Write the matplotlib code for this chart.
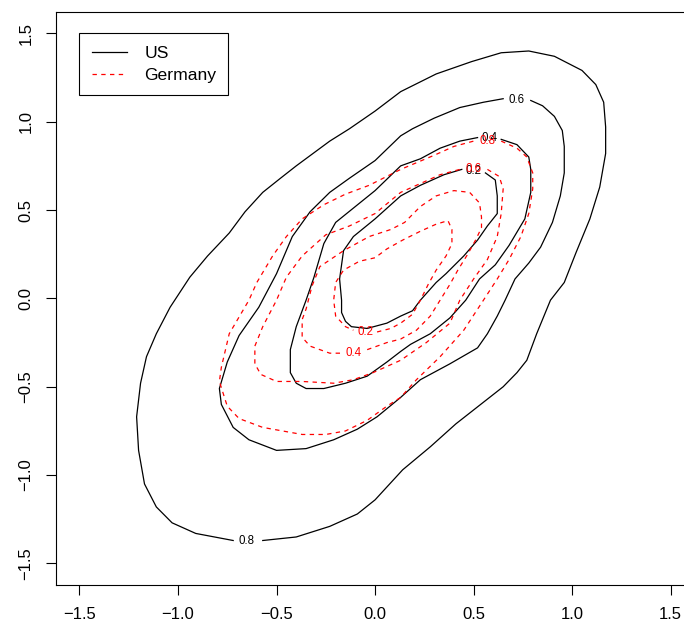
import matplotlib
matplotlib.use('Agg')
import matplotlib.pyplot as plt

plt.rcParams['font.family'] = ['Liberation Sans', 'DejaVu Sans']

# contour paths, each one is open where its label sits
us_08_x = [-0.57, -0.40, -0.23, -0.09, 0.00, 0.14, 0.28, 0.41, 0.57, 0.65, 0.72, 0.77, 0.82, 0.89, 0.96, 1.02, 1.09,
           1.14, 1.17, 1.17, 1.16, 1.12, 1.05, 0.91, 0.78, 0.64, 0.49, 0.31, 0.13, 0.00, -0.13, -0.23, -0.40, -0.48,
           -0.57, -0.66, -0.74, -0.85, -0.94, -1.04, -1.11, -1.16, -1.19, -1.21, -1.20, -1.17, -1.11, -1.03, -0.91, -0.72]
us_08_y = [-1.37, -1.35, -1.29, -1.22, -1.14, -0.97, -0.84, -0.71, -0.57, -0.50, -0.42, -0.35, -0.20, -0.01, 0.09, 0.26,
           0.45, 0.63, 0.82, 0.97, 1.11, 1.21, 1.29, 1.37, 1.40, 1.39, 1.34, 1.27, 1.17, 1.06, 0.96, 0.89, 0.75, 0.68,
           0.60, 0.49, 0.37, 0.24, 0.12, -0.05, -0.20, -0.33, -0.48, -0.67, -0.86, -1.05, -1.18, -1.27, -1.33, -1.37]

us_06_x = [0.79, 0.85, 0.91, 0.95, 0.96, 0.96, 0.94, 0.90, 0.84, 0.78, 0.71, 0.66, 0.62, 0.57, 0.52, 0.38, 0.23, 0.13,
           0.01, -0.09, -0.21, -0.35, -0.50, -0.64, -0.72, -0.78, -0.79, -0.75, -0.69, -0.59, -0.50, -0.42, -0.33,
           -0.23, -0.13, 0.00, 0.13, 0.19, 0.30, 0.43, 0.55, 0.65]
us_06_y = [1.12, 1.09, 1.03, 0.95, 0.86, 0.71, 0.58, 0.43, 0.29, 0.20, 0.11, -0.01, -0.10, -0.20, -0.28, -0.37, -0.46,
           -0.56, -0.67, -0.74, -0.80, -0.85, -0.86, -0.80, -0.73, -0.60, -0.51, -0.36, -0.21, -0.05, 0.14, 0.35, 0.49,
           0.60, 0.68, 0.78, 0.92, 0.96, 1.02, 1.08, 1.11, 1.13]

us_04_x = [0.64, 0.72, 0.78, 0.79, 0.79, 0.76, 0.68, 0.61, 0.53, 0.46, 0.38, 0.28, 0.18, 0.13, 0.06, -0.04, -0.15,
           -0.26, -0.35, -0.40, -0.43, -0.43, -0.40, -0.35, -0.31, -0.26, -0.20, -0.10, 0.00, 0.13, 0.23, 0.33, 0.43, 0.52]
us_04_y = [0.90, 0.87, 0.80, 0.73, 0.60, 0.45, 0.30, 0.19, 0.11, -0.01, -0.11, -0.20, -0.26, -0.30, -0.36, -0.44, -0.48,
           -0.51, -0.51, -0.48, -0.42, -0.29, -0.16, -0.01, 0.12, 0.31, 0.43, 0.52, 0.61, 0.75, 0.79, 0.85, 0.89, 0.91]

us_02_x = [0.56, 0.61, 0.62, 0.62, 0.57, 0.52, 0.45, 0.36, 0.31, 0.27, 0.23, 0.19, 0.13, 0.06, -0.04, -0.12, -0.15,
           -0.17, -0.17, -0.18, -0.16, -0.11, 0.00, 0.13, 0.23, 0.35, 0.44]
us_02_y = [0.71, 0.67, 0.58, 0.48, 0.41, 0.33, 0.24, 0.14, 0.09, 0.04, -0.01, -0.07, -0.10, -0.14, -0.17, -0.16, -0.13,
           -0.08, -0.01, 0.11, 0.27, 0.35, 0.45, 0.58, 0.64, 0.70, 0.73]

de_08_x = [0.64, 0.72, 0.77, 0.80, 0.80, 0.78, 0.74, 0.68, 0.62, 0.55, 0.45, 0.33, 0.21, 0.13, 0.06, -0.04, -0.15,
           -0.25, -0.37, -0.57, -0.69, -0.75, -0.79, -0.78, -0.74, -0.64, -0.60, -0.52, -0.45, -0.37, -0.26, -0.15,
           -0.03, 0.13, 0.30, 0.40, 0.50]
de_08_y = [0.89, 0.85, 0.80, 0.71, 0.62, 0.48, 0.35, 0.22, 0.11, -0.01, -0.18, -0.33, -0.46, -0.56, -0.61, -0.69, -0.75,
           -0.77, -0.77, -0.73, -0.68, -0.61, -0.47, -0.39, -0.20, -0.01, 0.09, 0.24, 0.35, 0.45, 0.53, 0.59, 0.64,
           0.73, 0.81, 0.86, 0.89]

de_06_x = [0.57, 0.63, 0.65, 0.64, 0.62, 0.57, 0.50, 0.43, 0.38, 0.26, 0.13, -0.01, -0.11, -0.21, -0.37, -0.50, -0.58,
           -0.61, -0.61, -0.57, -0.50, -0.45, -0.37, -0.25, -0.13, 0.00, 0.13, 0.19, 0.33, 0.43]
de_06_y = [0.73, 0.69, 0.62, 0.48, 0.35, 0.22, 0.11, -0.01, -0.14, -0.25, -0.35, -0.42, -0.46, -0.48, -0.47, -0.47,
           -0.43, -0.37, -0.27, -0.16, -0.01, 0.12, 0.24, 0.36, 0.41, 0.48, 0.60, 0.63, 0.70, 0.73]

de_04_x = [-0.04, 0.06, 0.13, 0.21, 0.28, 0.33, 0.38, 0.42, 0.47, 0.51, 0.54, 0.54, 0.53, 0.48, 0.40, 0.31, 0.23, 0.15,
           0.08, -0.03, -0.16, -0.28, -0.32, -0.35, -0.37, -0.37, -0.33, -0.23, -0.17]
de_04_y = [-0.29, -0.25, -0.23, -0.18, -0.10, -0.01, 0.08, 0.16, 0.25, 0.33, 0.40, 0.46, 0.54, 0.60, 0.61, 0.58, 0.52,
           0.43, 0.39, 0.35, 0.27, 0.18, 0.07, -0.06, -0.12, -0.22, -0.27, -0.31, -0.31]

de_02_x = [0.01, 0.08, 0.13, 0.19, 0.23, 0.27, 0.31, 0.36, 0.39, 0.39, 0.37, 0.31, 0.23, 0.14, 0.06, 0.00, -0.08, -0.16,
           -0.20, -0.21, -0.20, -0.15, -0.11]
de_02_y = [-0.19, -0.17, -0.14, -0.09, -0.01, 0.08, 0.16, 0.24, 0.31, 0.39, 0.44, 0.42, 0.38, 0.33, 0.28, 0.23, 0.21,
           0.16, 0.09, -0.01, -0.10, -0.16, -0.18]

levels = ['0.8', '0.6', '0.4', '0.2']
us_lab_x = [-0.65, 0.72, 0.58, 0.50]
us_lab_y = [-1.375, 1.12, 0.905, 0.72]
de_lab_x = [0.57, 0.50, -0.11, -0.05]
de_lab_y = [0.888, 0.735, -0.31, -0.19]

ticks = [-1.5, -1.0, -0.5, 0.0, 0.5, 1.0, 1.5]

us_paths = [(us_08_x, us_08_y), (us_06_x, us_06_y), (us_04_x, us_04_y), (us_02_x, us_02_y)]
de_paths = [(de_08_x, de_08_y), (de_06_x, de_06_y), (de_04_x, de_04_y), (de_02_x, de_02_y)]

fig = plt.figure(figsize=(6.84, 6.31), dpi=100)
# the right edge of the box falls outside the picture, as in the original
ax = fig.add_axes([0.0816, 0.0734, 0.9335, 0.9074])

for i, (x, y) in enumerate(us_paths):
    ax.plot(x, y, color='black', lw=0.9, label='US' if i == 0 else None)
for i, (x, y) in enumerate(de_paths):
    ax.plot(x, y, color='red', lw=0.9, ls=(0, (3.5, 3.5)), label='Germany' if i == 0 else None)

# labels sit on top of each other near the top, same as the R output
for lev, x, y in zip(levels, us_lab_x, us_lab_y):
    ax.text(x, y, lev, color='black', fontsize=8.3, ha='center', va='center')
for lev, x, y in zip(levels, de_lab_x, de_lab_y):
    ax.text(x, y, lev, color='red', fontsize=8.3, ha='center', va='center')

ax.set_xlim(-1.62, 1.62)
ax.set_ylim(-1.62, 1.62)
ax.set_xticks(ticks)
ax.set_yticks(ticks)
ax.tick_params(length=7, width=0.8, pad=9, labelsize=12)
for lab in ax.get_yticklabels():
    lab.set_rotation(90)
    lab.set_va('center')
for sp in ax.spines.values():
    sp.set_linewidth(0.8)

leg = ax.legend(loc='upper left', bbox_to_anchor=(0.037, 0.963), borderaxespad=0, fontsize=12.6,
                fancybox=False, edgecolor='black', framealpha=1, handlelength=2.0, handletextpad=1.0,
                labelspacing=0.4, borderpad=0.7)
leg.get_frame().set_linewidth(0.8)

fig.savefig('out.png', dpi=100)
